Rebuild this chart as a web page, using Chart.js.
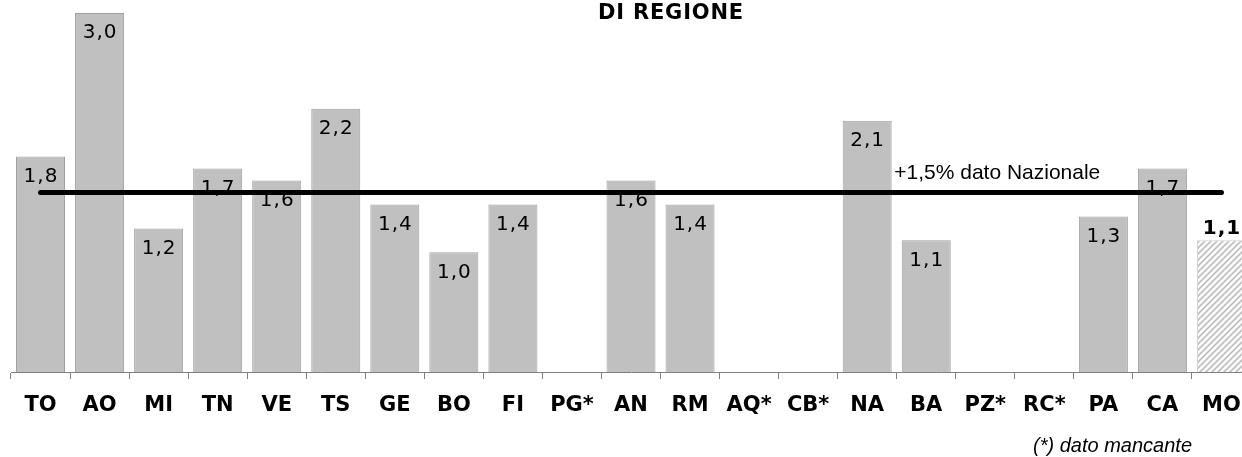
<!DOCTYPE html>
<html>
<head>
<meta charset="utf-8">
<script src="https://cdn.jsdelivr.net/npm/chart.js@4/dist/chart.umd.min.js"></script>
<style>
html,body{margin:0;padding:0;background:#fff;overflow:hidden;width:1242px;height:457px;}
#wrap{position:relative;width:1251px;height:457px;}
</style>
</head>
<body>
<div id="wrap"><canvas id="c" width="1251" height="457"></canvas></div>
<script>
const categories = ["TO","AO","MI","TN","VE","TS","GE","BO","FI","PG*","AN","RM","AQ*","CB*","NA","BA","PZ*","RC*","PA","CA","MO"];
const values = [1.8,3.0,1.2,1.7,1.6,2.2,1.4,1.0,1.4,null,1.6,1.4,null,null,2.1,1.1,null,null,1.3,1.7,1.1];
const nationalValue = 1.5;
const nationalLabel = "+1,5% dato Nazionale";
const titleText = "DI REGIONE";
const footnote = "(*) dato mancante";
const highlightIndex = 20;

function hatch(){
  const p = document.createElement('canvas');
  p.width = 6; p.height = 6;
  const g = p.getContext('2d');
  g.fillStyle = '#ffffff'; g.fillRect(0,0,6,6);
  g.strokeStyle = '#bdbdbd'; g.lineWidth = 1.6;
  g.beginPath();
  g.moveTo(-1,7); g.lineTo(7,-1);
  g.moveTo(-4,4); g.lineTo(4,-4);
  g.moveTo(2,10); g.lineTo(10,2);
  g.stroke();
  return document.getElementById('c').getContext('2d').createPattern(p,'repeat');
}
const pat = hatch();
const fills = categories.map((_,i)=> i===highlightIndex ? pat : '#c0c0c0');
const borders = categories.map((_,i)=> i===highlightIndex ? '#d0d0d0' : '#a0a0a0');
const fmt = v => v.toFixed(1).replace('.', ',');

const overlay = {
  id:'overlay',
  afterDatasetsDraw(chart){
    const ctx = chart.ctx;
    const meta = chart.getDatasetMeta(0);
    ctx.save();
    ctx.textAlign = 'center';
    ctx.textBaseline = 'middle';
    meta.data.forEach((bar,i)=>{
      const v = values[i];
      if(v==null) return;
      ctx.letterSpacing = '1px';
      ctx.fillStyle = '#000';
      if(i===highlightIndex){
        ctx.font = 'bold 20px "DejaVu Sans"';
        ctx.fillText(fmt(v), bar.x + 0.5, bar.y-12);
      } else {
        ctx.font = '20px "DejaVu Sans"';
        ctx.fillText(fmt(v), bar.x + 0.5, bar.y+20);
      }
    });
    const xs = chart.scales.x, ys = chart.scales.y;
    ctx.letterSpacing = '0px';
    ctx.font = '21px "Liberation Sans"';
    ctx.textAlign = 'left';
    ctx.textBaseline = 'middle';
    ctx.fillText(nationalLabel, xs.getPixelForValue(15)-32, ys.getPixelForValue(nationalValue)-19);
    ctx.restore();
  },
  afterDraw(chart){
    const ctx = chart.ctx;
    ctx.save();
    ctx.fillStyle = '#000';
    ctx.letterSpacing = '0.8px';
    ctx.font = 'bold 21px "DejaVu Sans"';
    ctx.textAlign = 'center';
    ctx.textBaseline = 'middle';
    ctx.fillText(titleText, 671, 14);
    ctx.letterSpacing = '0px';
    ctx.font = 'italic 20px "Liberation Sans"';
    ctx.textAlign = 'right';
    ctx.fillText(footnote, 1192, 446);
    ctx.restore();
  }
};

new Chart(document.getElementById('c'), {
  data:{
    labels: categories,
    datasets:[
      {type:'bar', data: values, backgroundColor: fills, borderColor: borders, borderWidth:1,
       barPercentage:0.83, categoryPercentage:1, order:2},
      {type:'line', data: categories.map(()=>nationalValue), borderColor:'#000', borderWidth:5,
       borderCapStyle:'round', pointRadius:0, fill:false, order:1}
    ]
  },
  options:{
    responsive:false, animation:false, devicePixelRatio:1,
    layout:{padding:{left:11,top:13,right:0,bottom:0}},
    plugins:{legend:{display:false}, tooltip:{enabled:false}, title:{display:false}},
    scales:{
      x:{
        offset:true,
        grid:{offset:true, drawOnChartArea:false, drawTicks:true, tickLength:7, color:'#808080'},
        border:{display:true, color:'#808080', width:1},
        ticks:{color:'#000', font:{family:'"DejaVu Sans"', weight:'bold', size:21}, padding:14, maxRotation:0, autoSkip:false},
        afterFit(s){ s.height = 85; s.paddingLeft = 0; s.paddingRight = 0; }
      },
      y:{display:false, min:0, max:3}
    }
  },
  plugins:[overlay]
});
</script>
</body>
</html>
